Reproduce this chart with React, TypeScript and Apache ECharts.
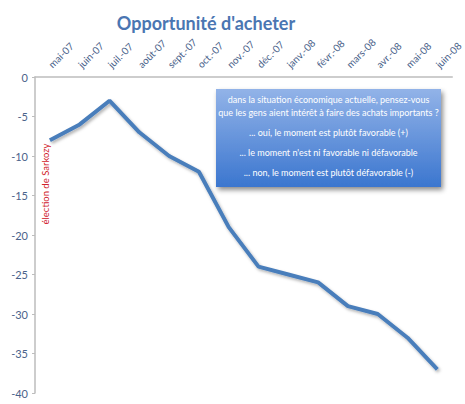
import React, { useEffect, useRef } from "react";
import * as echarts from "echarts";

const categories = [
  "mai-07", "juin-07", "juil.-07", "août-07", "sept.-07", "oct.-07", "nov.-07",
  "déc.-07", "janv.-08", "févr.-08", "mars-08", "avr.-08", "mai-08", "juin-08",
];
const values = [-8, -6, -3, -7, -10, -12, -19, -24, -25, -26, -29, -30, -33, -37];
const titleText = "Opportunité d'acheter";
const boxLines = [
  "dans la situation économique actuelle, pensez-vous",
  "que les gens aient intérêt à faire des achats importants ?",
  "... oui, le moment est plutôt favorable (+)",
  "... le moment n'est ni favorable ni défavorable",
  "... non, le moment est plutôt défavorable (-)",
];
const annotation = "élection de Sarkozy";

const FONT = "Lato, 'Open Sans', sans-serif";
const LABEL_COLOR = "#4a628a";

export default function App() {
  const ref = useRef<HTMLDivElement>(null);
  useEffect(() => {
    if (!ref.current) return;
    const chart = echarts.init(ref.current, null, { renderer: "svg" });
    const lineYs = [99, 112, 132.5, 152, 172];
    chart.setOption({
      animation: false,
      backgroundColor: "#ffffff",
      title: {
        text: titleText,
        left: 201,
        top: 9,
        textAlign: "center",
        textStyle: { fontFamily: FONT, fontWeight: "bold", fontSize: 18, color: "#4a76b2" },
      },
      grid: { left: 35, right: 10, top: 77, bottom: 11, containLabel: false },
      xAxis: {
        type: "category",
        position: "top",
        data: categories,
        boundaryGap: true,
        axisLine: { lineStyle: { color: "#bdbdbd", width: 1.5 } },
        axisTick: { inside: true, length: 4, lineStyle: { color: "#bdbdbd" } },
        axisLabel: {
          rotate: 45,
          margin: 11,
          fontFamily: FONT,
          fontSize: 10,
          color: LABEL_COLOR,
          interval: 0,
        },
        splitLine: { show: false },
      },
      yAxis: {
        type: "value",
        min: -40,
        max: 0,
        interval: 5,
        axisLine: { show: true, lineStyle: { color: "#bdbdbd", width: 1.5 } },
        axisTick: { show: true, length: 3, lineStyle: { color: "#bdbdbd" } },
        axisLabel: { fontFamily: FONT, fontSize: 11, color: LABEL_COLOR, margin: 7 },
        splitLine: { show: false },
      },
      series: [
        {
          type: "line",
          data: values,
          symbol: "none",
          lineStyle: {
            color: "#4a7ebb",
            width: 4,
            shadowColor: "rgba(0,0,0,0.3)",
            shadowBlur: 3,
            shadowOffsetX: 1.5,
            shadowOffsetY: 2,
          },
        },
      ],
      graphic: [
        {
          type: "rect",
          shape: { x: 216, y: 89, width: 225, height: 98 },
          style: {
            fill: new echarts.graphic.LinearGradient(0, 0, 0, 1, [
              { offset: 0, color: "#92b3e8" },
              { offset: 1, color: "#3b76cf" },
            ]),
            shadowColor: "rgba(0,0,0,0.45)",
            shadowBlur: 5,
            shadowOffsetX: 2,
            shadowOffsetY: 3,
          },
          z: 10,
        },
        ...boxLines.map((t, i) => ({
          type: "text",
          x: 328.5,
          y: lineYs[i],
          z: 11,
          style: {
            text: t,
            fill: "#ffffff",
            font: `9px ${FONT}`,
            textAlign: "center",
            textVerticalAlign: "middle",
          },
        })),
        {
          type: "text",
          x: 45,
          y: 184,
          rotation: Math.PI / 2,
          z: 11,
          style: {
            text: annotation,
            fill: "#d0212b",
            font: `9.5px ${FONT}`,
            textAlign: "center",
            textVerticalAlign: "middle",
          },
        },
      ],
    });
    return () => chart.dispose();
  }, []);
  return <div ref={ref} style={{ width: 465, height: 404, position: "absolute", left: 0, top: 0 }} />;
}
